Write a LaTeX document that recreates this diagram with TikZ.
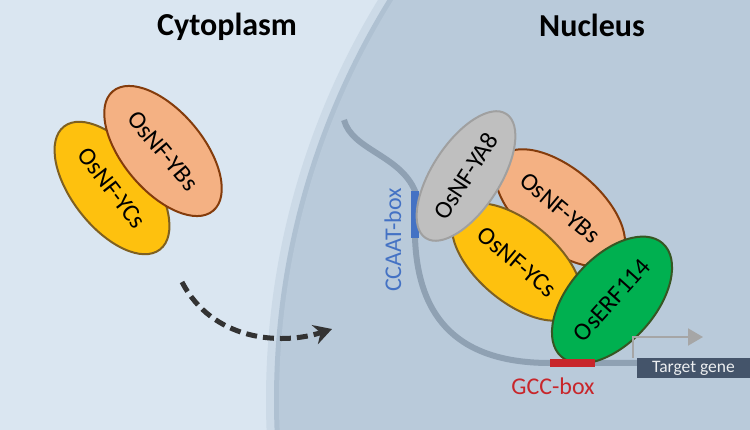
\documentclass[tikz,border=0pt]{standalone}
\usepackage{fontspec}
\setmainfont{Carlito}
\usepackage{tikz}
\usetikzlibrary{positioning,shapes.geometric,arrows.meta}
\definecolor{cytobg}{HTML}{DAE6F1}
\definecolor{nucbg}{HTML}{B9CADA}
\definecolor{membrane}{HTML}{CCDAE7}
\definecolor{envelope}{HTML}{AFC1D2}
\definecolor{dnagrey}{HTML}{8FA1B3}
\definecolor{ybfill}{HTML}{F4B183}
\definecolor{ybdraw}{HTML}{843C0C}
\definecolor{ycfill}{HTML}{FEC10E}
\definecolor{ycdraw}{HTML}{7F6020}
\definecolor{yafill}{HTML}{BFBFBF}
\definecolor{yadraw}{HTML}{A0A0A0}
\definecolor{erffill}{HTML}{00B050}
\definecolor{erfdraw}{HTML}{375623}
\definecolor{ccaatblue}{HTML}{4472C4}
\definecolor{gccred}{HTML}{C8262B}
\definecolor{genebox}{HTML}{44546A}
\definecolor{tssgrey}{HTML}{A6A6A6}
\tikzstyle{title} = [font=\fontsize{32}{36}\selectfont\bfseries, anchor=base]
\tikzstyle{protein} = [ellipse, line width=2pt, inner sep=0pt, text centered, font=\fontsize{25}{30}\selectfont]
\tikzstyle{nfyb} = [protein, fill=ybfill, draw=ybdraw, minimum width=156pt, minimum height=80pt]
\tikzstyle{nfyc} = [protein, fill=ycfill, draw=ycdraw, minimum width=156pt, minimum height=80pt]
\tikzstyle{nfya} = [protein, fill=yafill, draw=yadraw, minimum width=148pt, minimum height=68pt]
\tikzstyle{erf} = [protein, fill=erffill, draw=erfdraw, minimum width=152pt, minimum height=86pt]
\tikzstyle{boxlabel} = [font=\fontsize{24}{28}\selectfont, anchor=base]
\tikzstyle{ccaatbox} = [rectangle, fill=ccaatblue, inner sep=0pt, minimum width=8pt, minimum height=47pt]
\tikzstyle{gccbox} = [rectangle, fill=gccred, inner sep=0pt, minimum width=45pt, minimum height=8pt]
\tikzstyle{targetbox} = [rectangle, fill=genebox, text=white!90!genebox, inner sep=0pt, minimum width=113pt, minimum height=20pt, font=\fontsize{17.5}{19}\selectfont]
\tikzstyle{dna} = [draw=dnagrey, line width=6pt]
\tikzstyle{movearrow} = [line width=5pt, draw=black!80, dash pattern=on 11pt off 6pt, -{Stealth[length=18pt, width=20pt, inset=6pt]}]
\tikzstyle{tss} = [line width=2pt, draw=tssgrey, -{Triangle[length=15pt, width=17pt]}]

\begin{document}
\begin{tikzpicture}[x=1pt, y=-1pt]
        \useasboundingbox (0,0) rectangle (750,430);
        \fill [cytobg] (0,0) rectangle (750,430);
        \begin{scope}
            \clip (0,0) rectangle (750,430);
            \fill [membrane] (1036,400) circle (770pt);
            \fill [envelope] (1036,400) circle (762pt);
            \fill [nucbg] (1036,400) circle (757pt);
        \end{scope}

        \node (cytotitle) [title] at (227,36) {Cytoplasm};
        \node (nuctitle) [title] at (592,37) {Nucleus};

        \node (cycs) [nfyc, rotate=-52] at (112,188) {OsNF-YCs};
        \node (cybs) [nfyb, rotate=-50] at (163,151) {OsNF-YBs};

        \coordinate (exportstart) at (182,282);
        \coordinate (exportend) at (332,329);
        \draw [movearrow] (exportstart) .. controls (212,340) and (280,346) .. (exportend);

        \coordinate (dnastart) at (344,120);
        \coordinate (ccaattop) at (415,191);
        \coordinate (ccaatbot) at (415,238);
        \coordinate (gccleft) at (550,363);
        \coordinate (geneleft) at (640,363);
        \draw [dna] (dnastart) .. controls (352,150) and (400,155) .. (ccaattop) -- (ccaatbot)
            .. controls (418,320) and (460,363) .. (gccleft) -- (geneleft);

        \node (ccaat) [ccaatbox] at (415,214.5) {};
        \node (ccaatlabel) [boxlabel, rotate=90, text=ccaatblue] at (401,240) {CCAAT-box};

        \node (nybs) [nfyb, rotate=-40] at (560,208) {OsNF-YBs};
        \node (nycs) [nfyc, rotate=-40] at (517,262) {OsNF-YCs};
        \node (ya8) [nfya, rotate=57] at (466,176) {OsNF-YA8};
        \node (erf114) [erf, rotate=48] at (612,300) {OsERF114};

        \node (gcc) [gccbox] at (572.5,363.5) {};
        \node (gcclabel) [boxlabel, text=gccred] at (553,395) {GCC-box};

        \node (target) [targetbox] at (693.5,368) {Target gene};
        \coordinate (tsstip) at (703,337);
        \draw [tss] ([xshift=-4pt]target.north west) |- (tsstip);
\end{tikzpicture}
\end{document}
